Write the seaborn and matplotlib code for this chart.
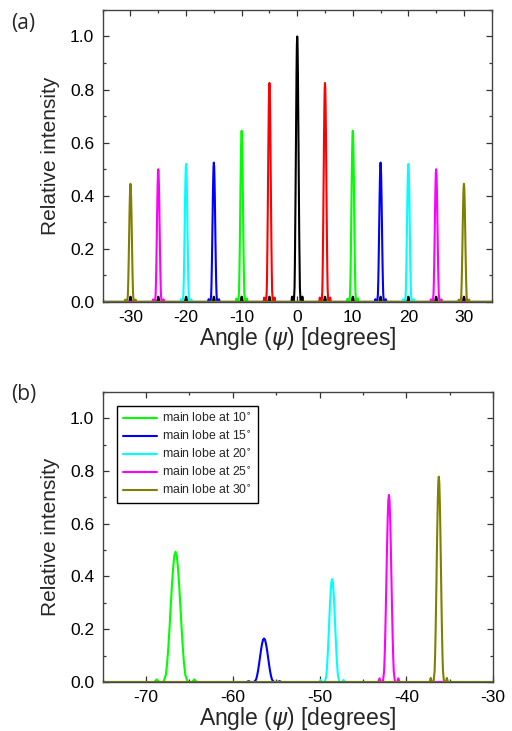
import numpy as np
import pandas as pd
import matplotlib
matplotlib.use("Agg")
import matplotlib.pyplot as plt
import seaborn as sns
from matplotlib.ticker import MultipleLocator

# ---------------- data ----------------
# panel (a): main lobes, each colour appears at +/- centre
top_labels = ["0", "5", "10", "15", "20", "25", "30"]
top_centers = [0, 5, 10, 15, 20, 25, 30]
top_heights = [1.0, 0.825, 0.645, 0.525, 0.52, 0.50, 0.445]
top_colors = ["#000000", "#ff0000", "#00ff00", "#0000ff", "#00ffff", "#ff00ff", "#808000"]
top_halfwidth = 0.6
# tiny black grating spurs seen at the other lobe positions
spur_centers = [-30, -25, -20, -15, -10, -5, 5, 10, 15, 20, 25, 30]
spur_height = 0.02
spur_halfwidth = 0.25

# panel (b)
bot_labels = ["main lobe at 10$^{\\circ}$", "main lobe at 15$^{\\circ}$",
              "main lobe at 20$^{\\circ}$", "main lobe at 25$^{\\circ}$",
              "main lobe at 30$^{\\circ}$"]
bot_centers = [-66.6, -56.4, -48.55, -42.0, -36.25]
bot_heights = [0.494, 0.165, 0.39, 0.709, 0.778]
bot_halfwidths = [1.4, 1.15, 0.85, 0.7, 0.6]
bot_colors = ["#00ff00", "#0000ff", "#00ffff", "#ff00ff", "#808000"]

# lobe profile (offset in half-widths, relative level)
profile_u = [-1.75, -1.55, -1.35, -1.0, -0.8, -0.7, -0.6, -0.5, -0.4, -0.3, -0.2, -0.1, 0.0,
             0.1, 0.2, 0.3, 0.4, 0.5, 0.6, 0.7, 0.8, 1.0, 1.35, 1.55, 1.75]
profile_v = [0.0, 0.02, 0.0, 0.0, 0.055, 0.14, 0.26, 0.41, 0.575, 0.74, 0.875, 0.97, 1.0,
             0.97, 0.875, 0.74, 0.575, 0.41, 0.26, 0.14, 0.055, 0.0, 0.0, 0.02, 0.0]

top_xlim = (-35, 35)
bot_xlim = (-75, -30)


def lobe_points(centers, heights, halfwidths, xlim):
    xs = [xlim[0], xlim[1]]
    ys = [0.0, 0.0]
    for c, h, w in zip(centers, heights, halfwidths):
        for u, v in zip(profile_u, profile_v):
            xs.append(c + u * w)
            ys.append(h * v)
    order = np.argsort(xs, kind="stable")
    return np.asarray(xs)[order], np.asarray(ys)[order]


rows = []
for lab, c, h in zip(top_labels, top_centers, top_heights):
    if c == 0:
        cs, hs, ws = [0], [h], [top_halfwidth]
        cs += spur_centers
        hs += [spur_height] * len(spur_centers)
        ws += [spur_halfwidth] * len(spur_centers)
    else:
        cs, hs, ws = [-c, c], [h, h], [top_halfwidth, top_halfwidth]
    x, y = lobe_points(cs, hs, ws, top_xlim)
    rows.append(pd.DataFrame({"x": x, "y": y, "s": lab}))
df_top = pd.concat(rows, ignore_index=True)

rows = []
for lab, c, h, w in zip(bot_labels, bot_centers, bot_heights, bot_halfwidths):
    x, y = lobe_points([c], [h], [w], bot_xlim)
    rows.append(pd.DataFrame({"x": x, "y": y, "s": lab}))
df_bot = pd.concat(rows, ignore_index=True)

# ---------------- plotting ----------------
sns.set_theme(style="ticks")
plt.rcParams["font.family"] = ["Liberation Sans", "DejaVu Sans"]
plt.rcParams["mathtext.fontset"] = "dejavusans"
plt.rcParams["axes.unicode_minus"] = False

fig = plt.figure(figsize=(5.12, 7.31), dpi=100)
ax1 = fig.add_axes([0.2006, 0.5869, 0.7598, 0.3995])
ax2 = fig.add_axes([0.2006, 0.0670, 0.7623, 0.3971])

sns.lineplot(data=df_top, x="x", y="y", hue="s", hue_order=top_labels,
             palette=dict(zip(top_labels, top_colors)), sort=False,
             estimator=None, linewidth=1.5, legend=False, ax=ax1)
sns.lineplot(data=df_bot, x="x", y="y", hue="s", hue_order=bot_labels,
             palette=dict(zip(bot_labels, bot_colors)), sort=False,
             estimator=None, linewidth=1.5, ax=ax2)

for ax, xlim, major in ((ax1, top_xlim, 10), (ax2, bot_xlim, 10)):
    ax.set_xlim(*xlim)
    ax.set_ylim(0, 1.1)
    ax.xaxis.set_major_locator(MultipleLocator(major))
    ax.xaxis.set_minor_locator(MultipleLocator(5))
    ax.yaxis.set_major_locator(MultipleLocator(0.2))
    ax.yaxis.set_minor_locator(MultipleLocator(0.1))
    ax.yaxis.set_major_formatter(matplotlib.ticker.FormatStrFormatter("%.1f"))
    ax.tick_params(which="both", direction="in", top=True, right=True,
                   colors="#333333", labelcolor="black", labelsize=12.5, width=0.9)
    ax.tick_params(which="major", length=4.5, pad=6)
    ax.tick_params(which="minor", length=2.5)
    for sp in ax.spines.values():
        sp.set_visible(True)
        sp.set_color("#444444")
        sp.set_linewidth(1.0)
    ax.set_xlabel("Angle ($\\psi$) [degrees]", fontsize=16.5, labelpad=0)
    ax.set_ylabel("Relative intensity", fontsize=15, labelpad=7)

leg = ax2.legend(loc="upper left", bbox_to_anchor=(0.037, 0.951), borderaxespad=0,
                 fontsize=8.8, frameon=True, fancybox=False, handlelength=2.8,
                 handletextpad=0.35, labelspacing=0.4, borderpad=0.5)
leg.get_frame().set_edgecolor("black")
leg.get_frame().set_linewidth(1.0)
leg.get_frame().set_alpha(1)

fig.text(0.022, 0.968, "(a)", fontsize=15, family=["Open Sans", "DejaVu Sans"], va="center")
fig.text(0.022, 0.461, "(b)", fontsize=15, family=["Open Sans", "DejaVu Sans"], va="center")

fig.savefig("out.png", dpi=100)
